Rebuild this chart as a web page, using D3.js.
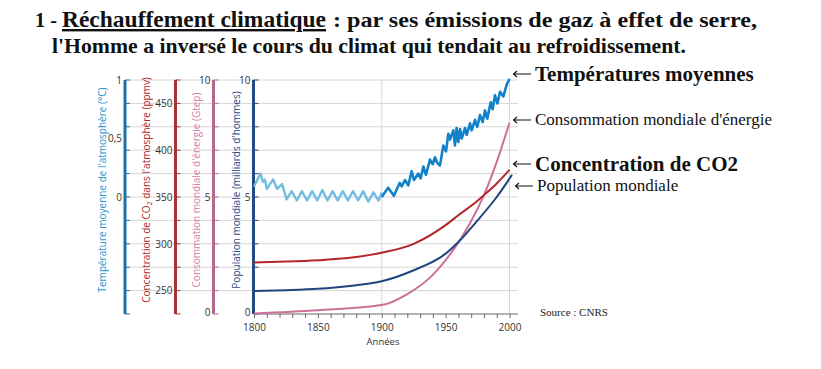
<!DOCTYPE html>
<html><head><meta charset="utf-8">
<script src="https://cdn.jsdelivr.net/npm/d3@7"></script>
<style>body{margin:0;background:#fff}svg{display:block}</style>
</head><body>
<svg id="c" width="821" height="369"></svg>
<script>
// ---- data ----
const tempYearsEarly = [1800,1805,1807,1808.5,1810,1815,1818,1822,1825.5,1829.5,1833.5,1837.5,1841.5,1845.5,1849.5,1853.5,1857.5,1861.5,1865.5,1869.5,1873.5,1877.5,1881.5,1885.5,1889.5,1893.5,1897.5,1900];
const tempEarly      = [0.09,0.20,0.13,0.15,0.07,0.15,0.07,0.11,-0.02,0.05,-0.03,0.05,-0.03,0.05,-0.03,0.06,-0.03,0.05,-0.03,0.05,-0.03,0.05,-0.03,0.05,-0.04,0.04,-0.03,0.04];
const tempYearsLate = [1900,1905,1909.5,1914,1915.6,1918.2,1920.8,1923.4,1925.2,1928.6,1930.5,1932.6,1934.6,1937.8,1939.9,1941.7,1943.5,1945.6,1948.2,1950.3,1952.1,1953.4,1956,1957.3,1958.6,1959.9,1961.3,1962.6,1965.2,1966.5,1969.1,1970.4,1973,1974.8,1976.9,1979,1980.8,1982.6,1985.3,1986.8,1988.6,1990.5,1992.6,1995.2,1997.8,2000];
const tempLate      = [0.0,0.08,0.01,0.12,0.09,0.145,0.10,0.22,0.145,0.20,0.16,0.26,0.19,0.32,0.28,0.34,0.29,0.27,0.44,0.39,0.54,0.49,0.57,0.44,0.59,0.47,0.58,0.50,0.59,0.53,0.63,0.57,0.66,0.60,0.70,0.64,0.74,0.67,0.81,0.75,0.87,0.80,0.90,0.86,0.96,1.01];
const co2Years = [1800,1825,1850,1875,1900,1925,1950,1960,1975,1980,1990,2000];
const co2Values = [280,281,282.5,285,290.5,300,320,330.5,346,352,364.5,379];
const popYears = [1800,1825,1850,1875,1900,1925,1950,1960,1975,1990,2002];
const popValues = [0.98,1.02,1.08,1.2,1.4,1.87,2.58,3.08,4.0,5.0,5.95];
const energyYears = [1800,1850,1900,1920,1940,1950,1962,1975,1980,1990,2000];
const energyValues = [0.02,0.16,0.38,0.85,1.67,2.3,3.22,4.5,5.08,6.5,8.17];
const xTicks = [1800,1850,1900,1950,2000];
const tempTicks = [1,0.5,0];
const tempTickLabels = ["1","0,5","0"];
const co2Ticks = [250,300,350,400,450];
const gtepTicks = [0,5,10];
const popTicks = [0,5,10];
const seriesLabels = ["Températures moyennes","Consommation mondiale d'énergie","Concentration de CO2","Population mondiale"];

const svg = d3.select("#c");
const yTop = 80, yBot = 314;
const x = d3.scaleLinear().domain([1800,2000]).range([254,509.5]);
const yPop = d3.scaleLinear().domain([0,10]).range([yBot,yTop]);
const yEn = d3.scaleLinear().domain([0,10]).range([yBot,yTop]);
const yTemp = d3.scaleLinear().domain([-1,1]).range([yBot,yTop]);
const yCo2 = d3.scaleLinear().domain([225,475]).range([yBot,yTop]);

const sans = "'Open Sans', 'Noto Sans', sans-serif";
const serif = "'Liberation Serif', 'Times New Roman', serif";

// grid
const g = svg.append("g");
g.selectAll("line.h").data(d3.range(1,11)).join("line")
  .attr("x1",127).attr("x2",518).attr("y1",d=>yPop(d)).attr("y2",d=>yPop(d))
  .attr("stroke","#d6d6d6").attr("stroke-width",1);
g.selectAll("line.v").data([1900,2000]).join("line")
  .attr("x1",d=>x(d)).attr("x2",d=>x(d)).attr("y1",yTop).attr("y2",yBot)
  .attr("stroke","#d6d6d6").attr("stroke-width",1);

// x axis
const xa = svg.append("g").attr("transform",`translate(0,${yBot})`)
  .call(d3.axisBottom(x).tickValues(d3.range(1800,2001,10)).tickSize(4).tickFormat(d=>xTicks.includes(d)?d:""));
xa.select(".domain").attr("d",`M${x(1800)},0H518`).attr("stroke","#666");
xa.selectAll(".tick line").attr("stroke","#666");
xa.selectAll(".tick text").attr("font-family",sans).attr("font-size",10).attr("fill","#333").attr("y",9).attr("dy","0.8em");
svg.append("text").attr("x",383).attr("y",345).attr("text-anchor","middle")
  .attr("font-family",sans).attr("font-size",9.5).attr("fill","#333").text("Années");

// y axes
function yAxis(xpos, scale, ticks, fmt, color, title, titleX, titleColor){
  const a = svg.append("g").attr("transform",`translate(${xpos},0)`)
    .call(d3.axisLeft(scale).tickValues(ticks).tickSize(0).tickPadding(3).tickFormat(fmt));
  a.select(".domain").remove();
  a.selectAll(".tick text").attr("font-family",sans).attr("font-size",10).attr("fill","#333");
  a.selectAll(".tick").filter(d=>scale(d)>=yBot-0.5).select("text").attr("dy","0.1em");
  svg.append("g").selectAll("line").data(d3.range(0,11)).join("line")
    .attr("x1",xpos).attr("x2",xpos+5).attr("y1",d=>yPop(d)).attr("y2",d=>yPop(d))
    .attr("stroke",color).attr("stroke-width",1);
  svg.append("line").attr("x1",xpos).attr("x2",xpos).attr("y1",yTop).attr("y2",yBot)
    .attr("stroke",color).attr("stroke-width",3);
  const t = svg.append("text").attr("transform",`translate(${titleX},${(yTop+yBot)/2-7}) rotate(-90)`)
    .attr("text-anchor","middle").attr("font-family",sans).attr("font-size",10)
    .attr("fill",titleColor);
  title(t);
}
yAxis(125, yTemp, tempTicks, (d,i)=>tempTickLabels[i], "#1b72a6",
  t=>t.text("Température moyenne de l'atmosphère (°C)"), 106, "#1f95cc");
yAxis(175.5, yCo2, co2Ticks, d=>d, "#a83232",
  t=>{t.append("tspan").text("Concentration de CO");t.append("tspan").attr("font-size",7).attr("dy",2).text("2");t.append("tspan").attr("dy",-2).text(" dans l'atmosphère (ppmv)");}, 150, "#b02828");
yAxis(213.5, yEn, gtepTicks, d=>d, "#b46a8e",
  t=>t.text("Consommation mondiale d'énergie (Gtep)"), 200, "#cf82a6");
yAxis(253.5, yPop, popTicks, d=>d, "#234b85",
  t=>t.text("Population mondiale (milliards d'hommes)"), 240, "#1f4a88");

// series
function series(xs, ys, scale, color, w, curve){
  const pts = xs.map((d,i)=>[d, ys[i]]);
  svg.append("path").datum(pts)
    .attr("d", d3.line().x(d=>x(d[0])).y(d=>scale(d[1])).curve(curve))
    .attr("fill","none").attr("stroke",color).attr("stroke-width",w)
    .attr("stroke-linejoin","round");
}
series(energyYears, energyValues, yEn, "#cc7099", 2, d3.curveMonotoneX);
series(popYears, popValues, yPop, "#21467f", 2, d3.curveMonotoneX);
series(co2Years, co2Values, yCo2, "#b3262c", 2, d3.curveMonotoneX);
series(tempYearsEarly, tempEarly, yTemp, "#72bde0", 2.4, d3.curveLinear);
series(tempYearsLate, tempLate, yTemp, "#1281c9", 2.6, d3.curveLinear);

// title
function ttext(str, xx, yy, size, len, underline){
  const t = svg.append("text").attr("x",xx).attr("y",yy).attr("font-family",serif)
    .attr("font-weight","bold").attr("font-size",size).attr("fill","#111").text(str);
  if(len) t.attr("textLength",len).attr("lengthAdjust","spacingAndGlyphs");
  if(underline) t.attr("text-decoration","underline");
  return t;
}
ttext("1 -", 35, 27, 21, 22, false);
ttext("Réchauffement climatique", 62, 27, 24, 264, true);
ttext(": par ses émissions de gaz à effet de serre,", 333, 27, 21.5, 424, false);
ttext("l'Homme a inversé le cours du climat qui tendait au refroidissement.", 52, 53, 21.5, 634, false);

// right labels with drawn arrows
const labels = [
  {y:81, ay:74, ax:513, size:21, bold:true},
  {y:125, ay:120, ax:513, size:17, bold:false},
  {y:171, ay:164, ax:513, size:21, bold:true},
  {y:191, ay:186, ax:515, size:17, bold:false}
];
labels.forEach((d,i)=>{
  svg.append("path")
    .attr("d",`M${d.ax+18},${d.ay}H${d.ax+0.5}M${d.ax+4},${d.ay-3}L${d.ax+0.5},${d.ay}L${d.ax+4},${d.ay+3}`)
    .attr("fill","none").attr("stroke","#111").attr("stroke-width",1.1);
  svg.append("text").attr("x",d.ax+22).attr("y",d.y).attr("font-family",serif).attr("fill","#111")
    .attr("font-size",d.size).attr("font-weight",d.bold?"bold":"normal").text(seriesLabels[i]);
});

svg.append("text").attr("x",540).attr("y",316).attr("font-family",serif).attr("font-size",11)
  .attr("fill","#222").text("Source : CNRS");
</script>
</body></html>
